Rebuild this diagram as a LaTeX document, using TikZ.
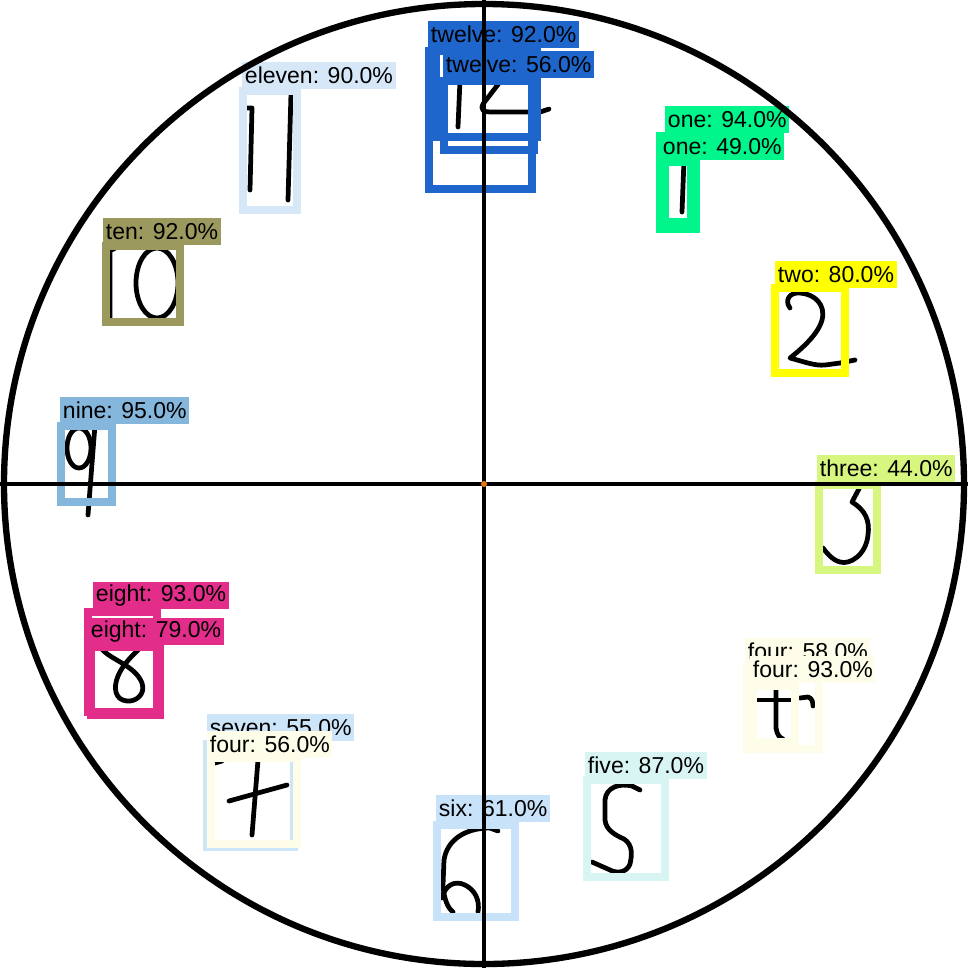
\documentclass[tikz,border=0pt]{standalone}
\usepackage{fontspec}
\setmainfont{Liberation Sans}
\definecolor{cTwelve}{RGB}{31,102,204}
\definecolor{cEleven}{RGB}{214,232,248}
\definecolor{cTen}{RGB}{156,153,94}
\definecolor{cNine}{RGB}{133,182,220}
\definecolor{cEight}{RGB}{226,45,138}
\definecolor{cSeven}{RGB}{205,229,248}
\definecolor{cFour}{RGB}{253,253,234}
\definecolor{cSix}{RGB}{200,226,250}
\definecolor{cFive}{RGB}{217,245,243}
\definecolor{cThree}{RGB}{214,246,127}
\definecolor{cTwo}{RGB}{255,255,0}
\definecolor{cOne}{RGB}{0,245,138}
\definecolor{cDot}{RGB}{230,120,20}
\begin{document}
\begin{tikzpicture}[x=0.02cm,y=-0.02cm]
\tikzset{
 digit/.style={line width=2.7pt, line cap=round, line join=round},
 boxline/.style={line width=4pt},
 lab/.style={anchor=south west, inner xsep=1.5pt, inner ysep=0pt, minimum height=0.53cm, font=\fontsize{13.1}{15}\selectfont, text=black},
 axisline/.style={line width=2.7pt},
}
\useasboundingbox (0,0) rectangle (968,968);
\fill[white] (0,0) rectangle (968,968);

% ---------- handwritten digits ----------
% 12
\draw[digit] (460,80) -- (458,127);
\draw[digit] (503,78) -- (483,104) .. controls (480,110) and (484,112) .. (490,112) -- (540,112) -- (549,109);
% 11
\draw[digit] (247,108) -- (252,108) -- (250,190);
\draw[digit] (291,93) -- (288,200);
% 10
\draw[digit] (114,249) -- (110,250) -- (110,318);
\draw[digit] (157,283) ellipse [x radius=21, y radius=35];
% 9
\draw[digit] (79,448) ellipse [x radius=12, y radius=20];
\draw[digit] (95,425) -- (88,515);
% 8
\draw[digit] (101,648) .. controls (110,660) and (135,665) .. (142,683) .. controls (146,695) and (135,702) .. (127,701) .. controls (115,700) and (113,688) .. (118,676) .. controls (123,664) and (133,655) .. (140,648);
% 7 / 4
\draw[digit] (215,763) -- (222,761);
\draw[digit] (258,760) -- (252,835);
\draw[digit] (229,801) -- (287,785);
% 6
\draw[digit] (498,831) -- (490,828) .. controls (465,828) and (447,840) .. (444,860) -- (443,885) .. controls (444,900) and (448,908) .. (453,912);
\draw[digit] (442,898) .. controls (445,885) and (455,880) .. (465,885) .. controls (475,890) and (480,900) .. (478,912);
% 5
\draw[digit] (640,790) -- (632,786) .. controls (620,783) and (606,787) .. (605,800) -- (605,820) .. controls (606,830) and (615,835) .. (624,839) .. controls (633,845) and (632,855) .. (630,864) .. controls (627,872) and (618,874) .. (610,870) -- (592,862);
% 4 (right)
\draw[digit] (758,700) -- (792,700);
\draw[digit] (776,685) -- (776,728) .. controls (777,735) and (780,738) .. (783,739);
\draw[digit] (800,698) -- (808,697) .. controls (812,698) and (813,702) .. (813,706);
% 3
\draw[digit] (861,485) -- (852,502) .. controls (865,510) and (870,520) .. (868,535) .. controls (866,555) and (850,565) .. (840,562) .. controls (832,560) and (826,552) .. (823,548);
% 2
\draw[digit] (790,308) .. controls (784,300) and (790,292) .. (800,293) .. controls (815,294) and (826,305) .. (822,320) .. controls (818,335) and (800,350) .. (790,358) .. controls (805,362) and (815,366) .. (825,365) -- (840,363) -- (855,360);
% 1
\draw[digit] (684,160) -- (682,212);

% ---------- detection boxes ----------
\draw[boxline, draw=cTwelve] (436,51) rectangle (537,137);
\draw[boxline, draw=cTwelve] (429,51) rectangle (532,189);
\draw[boxline, draw=cTwelve] (444,81) rectangle (534,150);
\draw[boxline, draw=cEleven] (243,91) rectangle (297,210);
\draw[boxline, draw=cTen] (106,246) rectangle (180,322);
\draw[boxline, draw=cNine] (61,426) rectangle (112,502);
\draw[boxline, draw=cEight] (88,612) rectangle (157,712);
\draw[boxline, draw=cEight] (91,647) rectangle (160,715);
\draw[boxline, draw=cSeven] (207,744) rectangle (294,847);
\draw[boxline, draw=cFour] (211,758) rectangle (297,844);
\draw[boxline, draw=cSix] (437,825) rectangle (515,917);
\draw[boxline, draw=cFive] (587,780) rectangle (665,877);
\draw[boxline, draw=cFour] (747,668) rectangle (819,749);
\draw[boxline, draw=cFour] (753,686) rectangle (795,742);
\draw[boxline, draw=cThree] (819,485) rectangle (877,570);
\draw[boxline, draw=cTwo] (775,288) rectangle (845,373);
\draw[boxline, draw=cOne] (660,136) rectangle (696,229);
\draw[boxline, draw=cOne] (665,162) rectangle (691,222);

% ---------- labels ----------
\node[lab, fill=cTwelve] (l12a) at (428,48) {twelve: 92.0\%};
\node[lab, fill=cTwelve] (l12b) at (443,78) {twelve: 56.0\%};
\node[lab, fill=cEleven] (l11) at (242,89) {eleven: 90.0\%};
\node[lab, fill=cTen] (l10) at (103,245) {ten: 92.0\%};
\node[lab, fill=cNine] (l9) at (60,424) {nine: 95.0\%};
\node[lab, fill=cEight] (l8a) at (93,609) {eight: 93.0\%};
\node[lab, fill=cEight] (l8b) at (88,645) {eight: 79.0\%};
\node[lab, fill=cSeven] (l7) at (207,741) {seven: 55.0\%};
\node[lab, fill=cFour] (l4a) at (207,758) {four: 56.0\%};
\node[lab, fill=cSix] (l6) at (436,822) {six: 61.0\%};
\node[lab, fill=cFive] (l5) at (585,779) {five: 87.0\%};
\node[lab, fill=cFour] (l4b) at (745,665) {four: 58.0\%};
\node[lab, fill=cFour] (l4c) at (750,683) {four: 93.0\%};
\node[lab, fill=cThree] (l3) at (817,482) {three: 44.0\%};
\node[lab, fill=cTwo] (l2) at (775,288) {two: 80.0\%};
\node[lab, fill=cOne] (l1a) at (665,133) {one: 94.0\%};
\node[lab, fill=cOne] (l1b) at (660,160) {one: 49.0\%};

% ---------- clock frame ----------
\coordinate (top) at (484,0);
\coordinate (bot) at (484,968);
\coordinate (lft) at (0,484);
\coordinate (rgt) at (968,484);
\coordinate (ctr) at (484,484);
\draw[axisline] (top) -- (bot);
\draw[axisline] (lft) -- (rgt);
\draw[line width=3.6pt] (ctr) circle [radius=480];
\fill[cDot] (ctr) circle [radius=3];
\end{tikzpicture}
\end{document}
